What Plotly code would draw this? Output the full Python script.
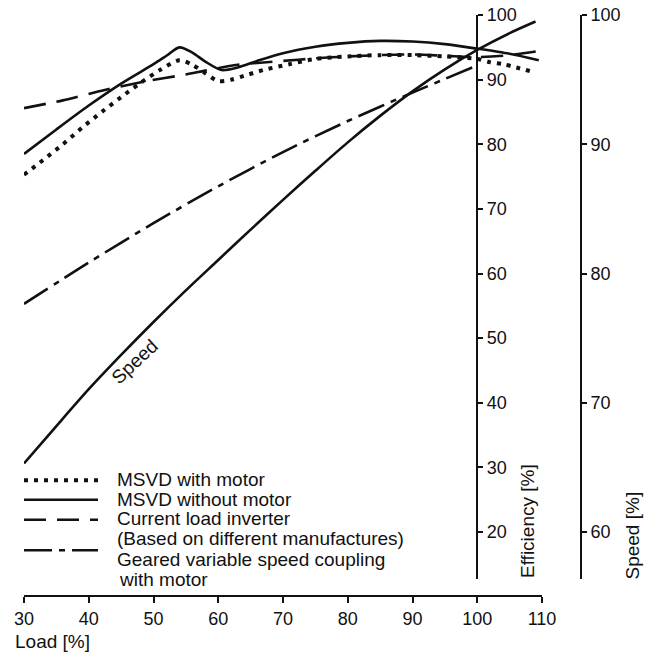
import plotly.graph_objects as go

# ---------------- data ----------------
load_with_motor = [30, 33, 36, 39, 42, 45, 48, 51, 54, 56, 58, 60, 62, 64, 67, 71, 75, 80, 85, 90, 95, 100, 102, 104, 106, 109]
eff_with_motor = [75.3, 77.6, 80.0, 82.6, 85.0, 87.3, 89.5, 91.5, 93.0, 92.3, 91.0, 89.8, 90.0, 90.6, 91.5, 92.4, 93.2, 93.6, 93.8, 93.8, 93.6, 93.2, 92.7, 92.4, 91.9, 91.1]

load_without_motor = [30, 35, 40, 45, 50, 52, 54, 56, 58, 60.5, 63, 66, 70, 75, 80, 85, 90, 95, 100, 105, 109.5]
eff_without_motor = [78.5, 82.3, 86.0, 89.4, 92.4, 93.7, 95.0, 94.2, 92.8, 91.5, 91.9, 92.9, 94.1, 95.1, 95.7, 96.0, 95.9, 95.5, 94.8, 94.0, 93.0]

load_inverter = [30, 36, 42, 49, 55, 58, 63, 70, 75, 80, 85, 90, 95, 100, 105, 109.3]
eff_inverter = [85.6, 86.8, 88.3, 89.8, 90.8, 91.4, 92.3, 92.9, 93.3, 93.6, 93.8, 93.9, 93.7, 93.5, 93.8, 94.4]

load_geared = [30, 40, 50, 60, 70, 80, 90, 100]
eff_geared = [55.3, 61.7, 67.8, 73.5, 78.8, 83.6, 88.0, 92.2]

load_speed = [30, 35, 40, 45, 50, 55, 60, 65, 70, 75, 80, 85, 90, 95, 100, 105, 109]
speed_vals = [65.3, 68.2, 71.05, 73.7, 76.25, 78.7, 81.05, 83.4, 85.7, 87.95, 90.15, 92.2, 94.1, 95.8, 97.3, 98.6, 99.5]

load_ticks = [30, 40, 50, 60, 70, 80, 90, 100, 110]
eff_ticks = [20, 30, 40, 50, 60, 70, 80, 90, 100]
speed_ticks = [60, 70, 80, 90, 100]

series_names = ["MSVD with motor", "MSVD without motor", "Current load inverter", "Geared variable speed coupling with motor"]
legend_lines = ["MSVD with motor", "MSVD without motor", "Current load inverter",
                "(Based on different manufactures)", "Geared variable speed coupling", "with motor"]

x_title = "Load [%]"
eff_title = "Efficiency [%]"
speed_title = "Speed [%]"
speed_label = "Speed"

# ---------------- layout geometry (window pixels; body margin removed below) ----------------
W, H = 649, 654
PLOT_L, PLOT_R, PLOT_T, PLOT_B = 24, 581, 15, 596   # px of the paper area
ML, MR, MT, MB = PLOT_L, W - PLOT_R, PLOT_T, H - PLOT_B
PW, PH = PLOT_R - PLOT_L, PLOT_B - PLOT_T
X_DOM_END = (542 - PLOT_L) / PW
Y_DOM_START = (PLOT_B - 579) / PH
EFF_MIN = 12.73
SPEED_MIN = 50 + EFF_MIN / 2


def px_x(px):
    return (px - PLOT_L) / PW


def px_y(py):
    return (PLOT_B - py) / PH


FONT = "Liberation Sans, Arial, Helvetica, sans-serif"
BLACK = "#111111"
TXT = 19

dashes = ["4px,6px", "solid", "22px,11px", "28px,7px,6px,7px"]
widths = [4, 2.6, 2.6, 2.6]

fig = go.Figure()
series = [
    (load_with_motor, eff_with_motor),
    (load_without_motor, eff_without_motor),
    (load_inverter, eff_inverter),
    (load_geared, eff_geared),
]
for (xs, ys), name, d, w in zip(series, series_names, dashes, widths):
    fig.add_trace(go.Scatter(x=xs, y=ys, mode="lines", name=name,
                             line=dict(color=BLACK, width=w, dash=d, shape="spline", smoothing=0.8),
                             showlegend=False, yaxis="y"))

fig.add_trace(go.Scatter(x=load_speed, y=speed_vals, mode="lines", name="Speed",
                         line=dict(color=BLACK, width=2.6, shape="spline", smoothing=0.8),
                         showlegend=False, yaxis="y2"))

axis_common = dict(showgrid=False, zeroline=False, showline=True, linewidth=2, linecolor=BLACK,
                   ticks="outside", tickwidth=2, tickcolor=BLACK, automargin=False,
                   ticklabeloverflow="allow",
                   tickfont=dict(family=FONT, size=18, color=BLACK))

fig.update_layout(
    template="none",
    width=W, height=H,
    margin=dict(l=ML, r=MR, t=MT, b=MB, autoexpand=False),
    paper_bgcolor="white", plot_bgcolor="white",
    font=dict(family=FONT, size=18, color=BLACK),
    xaxis=dict(domain=[0, X_DOM_END], range=[30, 110], anchor="free", position=0,
               tickvals=load_ticks, ticklen=6, **axis_common),
    yaxis=dict(domain=[Y_DOM_START, 1], range=[EFF_MIN, 100.01], anchor="free",
               position=X_DOM_END * (100 - 30) / (110 - 30), side="right",
               tickvals=eff_ticks, ticklen=5, **axis_common),
    yaxis2=dict(domain=[Y_DOM_START, 1], range=[SPEED_MIN, 100.005], overlaying="y", anchor="free",
                position=1, side="right", tickvals=speed_ticks, ticklen=5, **axis_common),
)

# ---------------- custom legend ----------------
sample_rows = [480.3, 499.8, 519.7, 550.3]
shapes = []
for d, w, ry in zip(dashes, widths, sample_rows):
    shapes.append(dict(type="line", xref="paper", yref="paper",
                       x0=px_x(24), x1=px_x(98), y0=px_y(ry), y1=px_y(ry),
                       line=dict(color=BLACK, width=w, dash=d)))
fig.update_layout(shapes=shapes)

text_rows = [479.0, 499.0, 518.3, 538.5, 559.3, 579.5]
text_left = [115, 115, 115, 115, 115, 116.5]
for txt, ry, lx in zip(legend_lines, text_rows, text_left):
    fig.add_annotation(text=txt, xref="paper", yref="paper", x=px_x(lx), y=px_y(ry),
                       xanchor="left", yanchor="middle", showarrow=False,
                       font=dict(family=FONT, size=TXT, color=BLACK))

# axis titles
fig.add_annotation(text=x_title, xref="paper", yref="paper", x=px_x(13), y=px_y(641),
                   xanchor="left", yanchor="middle", showarrow=False,
                   font=dict(family=FONT, size=TXT, color=BLACK))
fig.add_annotation(text=eff_title, xref="paper", yref="paper", x=px_x(527), y=px_y(521),
                   xanchor="center", yanchor="middle", textangle=-90, showarrow=False,
                   font=dict(family=FONT, size=TXT, color=BLACK))
fig.add_annotation(text=speed_title, xref="paper", yref="paper", x=px_x(632), y=px_y(535.5),
                   xanchor="center", yanchor="middle", textangle=-90, showarrow=False,
                   font=dict(family=FONT, size=TXT, color=BLACK))

# label on the speed curve
fig.add_annotation(text=speed_label, xref="x", yref="y", x=47.1, y=46.4,
                   textangle=-43, showarrow=False,
                   font=dict(family=FONT, size=TXT, color=BLACK))

fig.write_html("out.html", config={"displayModeBar": False},
               post_script="document.body.style.margin='0';document.body.style.overflow='hidden';")
